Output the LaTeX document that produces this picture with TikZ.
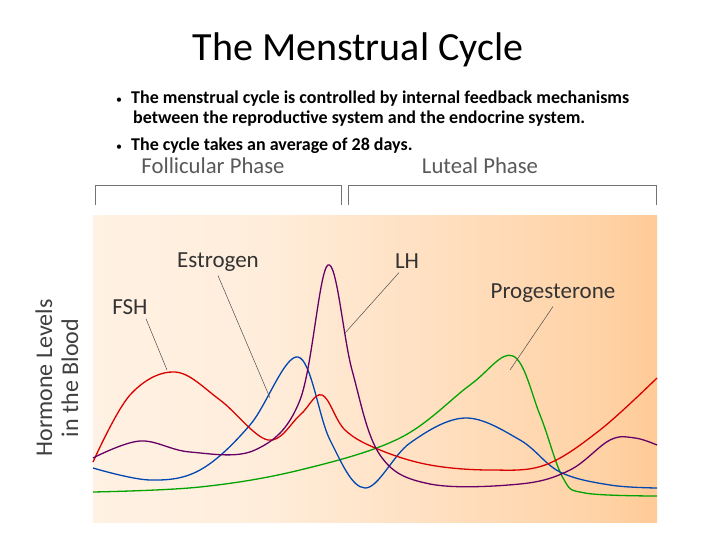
\documentclass[tikz,border=0pt]{standalone}
\usepackage{fontspec}
\setmainfont{Carlito}
\begin{document}
\begin{tikzpicture}[x=1pt,y=-1pt,
  curve/.style={line width=1.3pt,smooth,tension=0.6},
  lbl/.style={font=\fontsize{23}{24}\selectfont,text=black!80,inner sep=0},
  lead/.style={black!70,line width=0.5pt},
  brk/.style={black!55,line width=0.7pt},
  bul/.style={anchor=west,font=\bfseries\fontsize{18}{19}\selectfont,inner sep=0}]
\pgfdeclarehorizontalshading{bg}{100bp}{color(0bp)=(orange!6);color(40bp)=(orange!14);color(70bp)=(orange!35);color(90bp)=(orange!60);color(100bp)=(orange!85)}
\useasboundingbox (0,0) rectangle (720,540);
\fill[white] (0,0) rectangle (720,540);
\shade[shading=bg] (93,216) rectangle (657,522);
\node[font=\fontsize{40}{42}\selectfont] (title) at (358,50) {The Menstrual Cycle};
\node[bul] (b1) at (116,99) {{\normalfont\fontsize{12}{12}\selectfont•}\hspace{9pt}The menstrual cycle is controlled by internal feedback mechanisms};
\node[bul] (b1b) at (133,119) {between the reproductive system and the endocrine system.};
\node[bul] (b2) at (116,146) {{\normalfont\fontsize{12}{12}\selectfont•}\hspace{9pt}The cycle takes an average of 28 days.};
\node[font=\fontsize{22.7}{24}\selectfont,text=black!65] (fp) at (213,166) {Follicular Phase};
\node[font=\fontsize{22.7}{24}\selectfont,text=black!65] (lp) at (480,166) {Luteal Phase};
\draw[brk] (95,205) -- (95,185) -- (341,185) -- (341,205);
\draw[brk] (348,205) -- (348,185) -- (656,185) -- (656,205);
\node[rotate=90,align=center,font=\fontsize{24}{26}\selectfont,text=black!75] (yl) at (57,378) {Hormone Levels\\in the Blood};
% curves
\draw[curve,green!60!black!90!green] plot coordinates {(93,492) (200,487) (300,470) (400,438) (470,385) (513,356) (540,415) (563,478) (585,493) (657,496)};
\draw[curve,blue!60!cyan!70!black] plot coordinates {(93,468) (150,480) (200,470) (250,425) (298,357) (330,440) (365,488) (410,443) (465,418) (520,440) (560,472) (610,485) (657,488)};
\draw[curve,red!85!black] plot coordinates {(93,462) (130,395) (175,372) (220,400) (268,440) (300,415) (322,395) (345,430) (380,450) (430,465) (490,470) (545,465) (600,430) (657,378)};
\draw[curve,violet!80!black] plot coordinates {(93,458) (140,441) (190,452) (255,450) (300,400) (328,265) (352,370) (380,455) (430,484) (520,484) (570,470) (610,440) (635,438) (657,445)};
% labels
\node[lbl] (est) at (218,262) {Estrogen};
\node[lbl] (lh) at (407,261) {LH};
\node[lbl] (fsh) at (130,307) {FSH};
\node[lbl] (pro) at (553,293) {Progesterone};
\coordinate (e1) at (270,398); \coordinate (l1) at (345,333);
\coordinate (f1) at (167,370); \coordinate (p1) at (510,370);
\draw[lead] (est.south) ++(0,4) -- (e1);
\draw[lead] (lh.south) ++(-8,4) -- (l1);
\draw[lead] (fsh.south) ++(16,4) -- (f1);
\draw[lead] (pro.south) ++(0,4) -- (p1);
\end{tikzpicture}
\end{document}
